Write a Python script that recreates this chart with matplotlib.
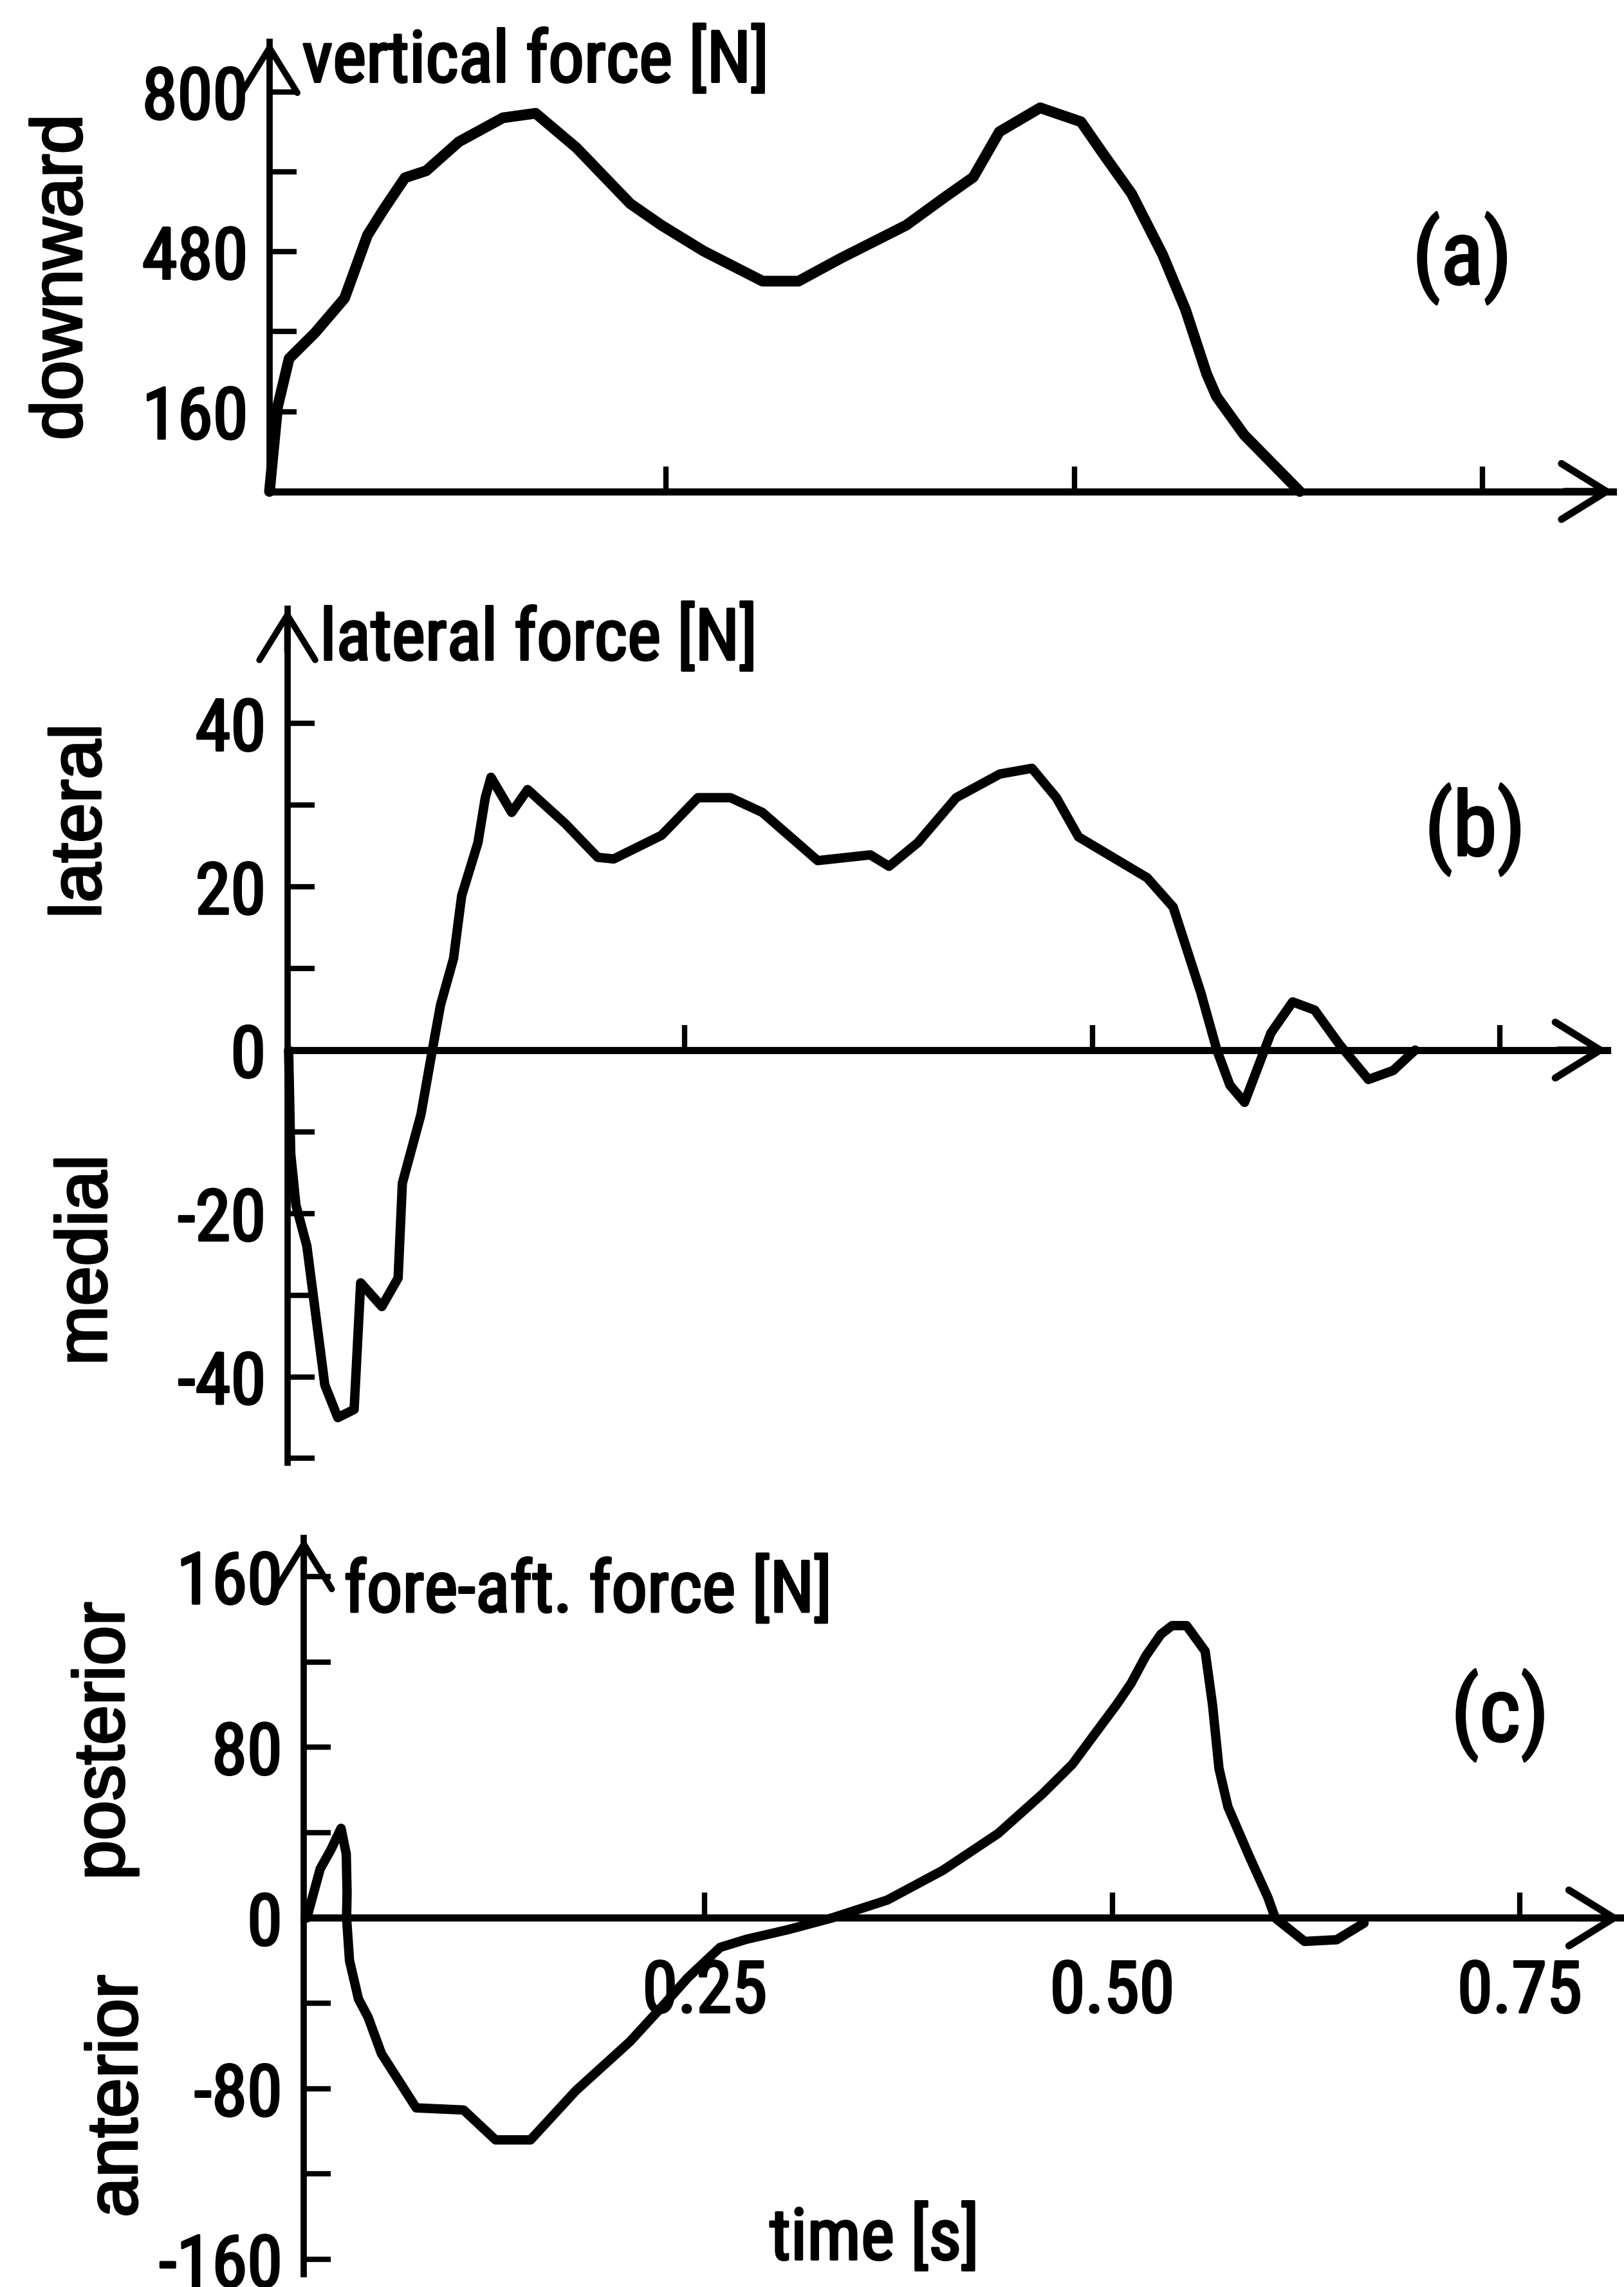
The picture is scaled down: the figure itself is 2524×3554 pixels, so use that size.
import matplotlib
matplotlib.use("Agg")
import matplotlib.pyplot as plt
from matplotlib import font_manager
from matplotlib.patches import ArrowStyle
import matplotlib.patheffects as pe

# ---------------- data ----------------
# (a) vertical force [N]
t_a = [0.007, 0.012, 0.019, 0.035, 0.053, 0.067, 0.077, 0.090, 0.103, 0.123,
       0.150, 0.170, 0.195, 0.228, 0.247, 0.273, 0.309, 0.331, 0.357, 0.397,
       0.421, 0.438, 0.454, 0.479, 0.504, 0.518, 0.535, 0.554, 0.568, 0.581,
       0.587, 0.604, 0.638]
f_a = [0, 170, 266, 318, 387, 513, 565, 628, 642, 700,
       748, 757, 688, 576, 533, 481, 421, 421, 467, 533,
       590, 629, 720, 768, 740, 674, 596, 474, 364, 235,
       190, 113, 0]

# (b) lateral force [N]
t_b = [0.0068, 0.0081, 0.0113, 0.018, 0.029, 0.037, 0.047, 0.051, 0.064,
       0.074, 0.0766, 0.088, 0.095, 0.100, 0.108, 0.113, 0.123, 0.1275, 0.131,
       0.1437, 0.1535, 0.1767, 0.1965, 0.2063, 0.2357, 0.258, 0.278, 0.2975, 0.3315,
       0.3638, 0.3753, 0.393, 0.4165, 0.4433, 0.463, 0.478, 0.4916, 0.5337, 0.5497,
       0.5667, 0.5765, 0.5845, 0.5935, 0.6097, 0.623, 0.6365, 0.6517, 0.6695, 0.6847,
       0.6982]
f_b = [0, -12.7, -19, -24, -41, -45, -44, -28.5, -31.4,
       -27.9, -16.3, -7.9, 0, 5.5, 11.2, 18.9, 25.4, 30.9, 33.4,
       29.1, 31.9, 27.7, 23.6, 23.4, 26.3, 30.9, 30.9, 29.1, 23.2,
       23.9, 22.5, 25.4, 30.9, 33.8, 34.5, 30.9, 26.1, 21.1, 17.5,
       7, 0, -4.3, -6.4, 2.1, 5.9, 4.9, 0.7, -3.6, -2.5,
       0]

# (c) fore-aft force [N]
t_c = [0.0058, 0.014, 0.0206, 0.0268, 0.0300, 0.0305, 0.0302, 0.032, 0.0375, 0.0434,
       0.0516, 0.0729, 0.102, 0.1216, 0.1431, 0.1708, 0.204, 0.2236, 0.2397, 0.2594,
       0.2755, 0.301, 0.328, 0.362, 0.396, 0.430, 0.457, 0.4755, 0.491, 0.5027,
       0.5116, 0.5206, 0.5299, 0.5367, 0.5456, 0.557, 0.5615, 0.5655, 0.571, 0.584,
       0.5955, 0.600, 0.618, 0.6377, 0.6545]
f_c = [0, 23, 32, 42, 30, 12, 0, -20, -38, -46.5,
       -63.6, -89, -90, -104, -104, -81, -58, -41.7, -27.9, -13.8,
       -10, -5.5, 0, 8.4, 22.3, 39.6, 58, 72, 88, 100,
       110, 122.8, 133, 137, 137, 125, 100, 70, 52, 29,
       9.6, 0, -11, -10.2, -2.4]

# ticks / labels
yt_a = [160, 320, 480, 640, 800]
yl_a = ["160", "", "480", "", "800"]
yt_b = [-50, -40, -30, -20, -10, 0, 10, 20, 30, 40]
yl_b = ["", "-40", "", "-20", "", "0", "", "20", "", "40"]
yt_c = [-160, -120, -80, -40, 0, 40, 80, 120, 160]
yl_c = ["-160", "", "-80", "", "0", "", "80", "", "160"]
xt = [0.25, 0.50, 0.75]
xl_c = ["0.25", "0.50", "0.75"]

# ---------------- fonts ----------------
names = {f.name for f in font_manager.fontManager.ttflist}
NARROW = None
for cand in ["Liberation Sans Narrow", "Arial Narrow", "Nimbus Sans Narrow",
             "Roboto Condensed", "Open Sans Condensed"]:
    if cand in names:
        NARROW = cand
        break
REG = "Liberation Sans"
if NARROW is None:
    NARROW = REG
    TXT_FS = 72
else:
    TXT_FS = 80
plt.rcParams["font.family"] = [NARROW, "DejaVu Sans"]

TICK_FS = TXT_FS
TITLE_FS = TXT_FS
PANEL_FS = 100
SIDE_FS = 80
LW_X = 8
LW_Y = 7
STROKE = [pe.withStroke(linewidth=2.6, foreground="black")]

fig = plt.figure(figsize=(25.24, 35.54), dpi=100)
fig.patch.set_facecolor("white")

panels = [
    dict(pos=[0.1589, 0.7851, 0.8345, 0.1966], xlim=(0, 0.83), ylim=(0, 900), t0=0.007,
         t=t_a, f=f_a, yt=yt_a, yl=yl_a, xl=["", "", ""], lw=12,
         title="vertical force [N]", txy=(0.027, 820), letter="(a)", lxy=(0.7375, 467)),
    dict(pos=[0.1709, 0.3605, 0.8187, 0.3732], xlim=(0, 0.816), ylim=(-50.5, 54), t0=0.006,
         t=t_b, f=f_b, yt=yt_b, yl=yl_b, xl=["", "", ""], lw=10.5,
         title="lateral force [N]", txy=(0.026, 47.8), letter="(b)", lxy=(0.735, 27)),
    dict(pos=[0.1831, 0.00555, 0.8149, 0.3219], xlim=(0, 0.812), ylim=(-167, 178), t0=0.004,
         t=t_c, f=f_c, yt=yt_c, yl=yl_c, xl=xl_c, lw=10.5,
         title="fore-aft. force [N]", txy=(0.0286, 143.5), letter="(c)", lxy=(0.738, 95)),
]

axes = []
style = ArrowStyle("->", head_length=0.42, head_width=0.26)
for p in panels:
    ax = fig.add_axes(p["pos"])
    ax.set_xlim(*p["xlim"])
    ax.set_ylim(*p["ylim"])
    ax.patch.set_alpha(0)
    for s in ("top", "right"):
        ax.spines[s].set_visible(False)
    ax.spines["left"].set_position(("data", p["t0"]))
    ax.spines["bottom"].set_position(("data", 0))
    ax.spines["left"].set_linewidth(LW_Y)
    ax.spines["bottom"].set_linewidth(LW_X)
    ax.spines["bottom"].set_bounds(p["t0"], p["xlim"][1])

    ax.set_yticks(p["yt"])
    ax.set_yticklabels(p["yl"])
    ax.set_xticks(xt)
    ax.set_xticklabels(p["xl"])
    ax.tick_params(axis="y", direction="in", length=30, width=6, pad=24,
                   labelsize=TICK_FS)
    ax.tick_params(axis="x", direction="in", length=28, width=6, pad=45,
                   labelsize=TICK_FS)
    for lab in ax.get_yticklabels() + ax.get_xticklabels():
        lab.set_path_effects(STROKE)

    ax.plot(p["t"], p["f"], color="black", lw=p["lw"], solid_joinstyle="round",
            solid_capstyle="round", clip_on=False)

    xmax = p["xlim"][1]
    ymax = p["ylim"][1]
    ax.annotate("", xy=(xmax, 0), xytext=(xmax - 0.03, 0),
                arrowprops=dict(arrowstyle=style, lw=LW_X, color="black",
                                mutation_scale=120, shrinkA=0, shrinkB=0),
                annotation_clip=False)
    span = p["ylim"][1] - p["ylim"][0]
    ax.annotate("", xy=(p["t0"], ymax), xytext=(p["t0"], ymax - 0.05 * span),
                arrowprops=dict(arrowstyle=style, lw=LW_Y, color="black",
                                mutation_scale=120, shrinkA=0, shrinkB=0),
                annotation_clip=False)

    ax.text(p["txy"][0], p["txy"][1], p["title"], fontsize=TITLE_FS,
            ha="left", va="baseline", path_effects=STROKE)
    ax.text(p["lxy"][0], p["lxy"][1], p["letter"], fontsize=PANEL_FS,
            ha="center", va="center", path_effects=STROKE)
    axes.append(ax)

# time label
axes[2].text(0.354, -160, "time [s]", fontsize=TITLE_FS, ha="center", va="baseline",
             path_effects=STROKE)

# side labels (regular width)
side = [("downward", 0.0386, 0.8788), ("lateral", 0.0503, 0.641),
        ("medial", 0.0539, 0.449), ("posterior", 0.0646, 0.2387),
        ("anterior", 0.0727, 0.0835)]
for txt, x, y in side:
    fig.text(x, y, txt, rotation=90, ha="center", va="center",
             fontsize=SIDE_FS, family=[REG, "DejaVu Sans"], path_effects=STROKE)

fig.savefig("out.png", dpi=100, facecolor="white")
